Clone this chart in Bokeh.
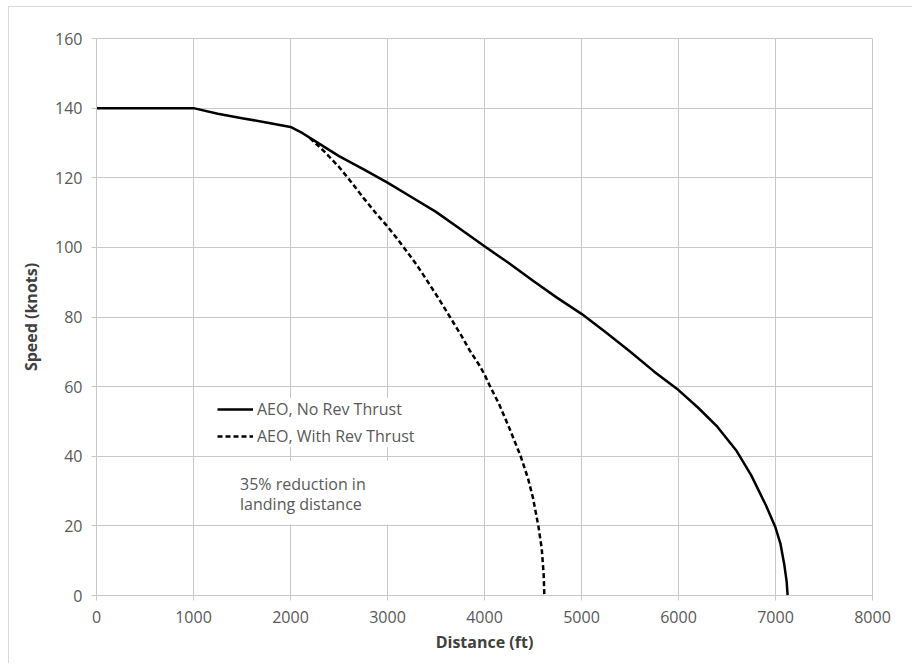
from bokeh.plotting import figure
from bokeh.models import (Range1d, FixedTicker, Legend, LegendItem, Label,
                          BoxAnnotation)
from bokeh.embed import file_html
from bokeh.resources import INLINE

# ---- data ----
no_rev_dist = [0, 1000, 1250, 1500, 1750, 2000, 2125, 2250, 2500, 2750, 3000,
               3250, 3500, 3750, 4000, 4250, 4500, 4750, 5000, 5250, 5500,
               5750, 6000, 6200, 6400, 6600, 6750, 6900, 7000, 7050, 7090,
               7115, 7125]
no_rev_speed = [140, 140, 138.4, 137.1, 135.9, 134.6, 132.8, 130.6, 126.2,
                122.5, 118.6, 114.4, 110.2, 105.3, 100.3, 95.5, 90.4, 85.5,
                80.9, 75.6, 70.1, 64.3, 59.0, 54.0, 48.5, 41.5, 34.5, 26.0,
                19.5, 15.0, 9.0, 4.0, 0]

rev_dist = [2200, 2350, 2500, 2625, 2750, 2875, 3000, 3100, 3200, 3300, 3400,
            3541, 3644, 3750, 3850, 3950, 4000, 4050, 4150, 4250, 4373, 4450,
            4500, 4555, 4590, 4610, 4617]
rev_speed = [131.4, 127.5, 123.1, 118.8, 114.3, 110.0, 106.0, 102.5, 98.8,
             95.0, 90.8, 84.7, 80.0, 75.2, 70.3, 66.0, 63.5, 60.5, 55.0, 48.5,
             40.0, 33.5, 28.0, 20.0, 13.5, 6.0, 0]

x_ticks = [0, 1000, 2000, 3000, 4000, 5000, 6000, 7000, 8000]
y_ticks = [0, 20, 40, 60, 80, 100, 120, 140, 160]

series_names = ["AEO, No Rev Thrust", "AEO, With Rev Thrust"]
note_lines = ["35% reduction in", "landing distance"]
x_title = "Distance (ft)"
y_title = "Speed (knots)"

FONT = "Open Sans"
GRID = "#c8c8c8"
TXT = "#595959"

p = figure(width=904, height=657, output_backend="svg", toolbar_location=None,
           x_range=Range1d(0, 8000), y_range=Range1d(0, 160),
           min_border_left=87, min_border_right=41, min_border_top=31,
           min_border_bottom=69, background_fill_color="white",
           border_fill_color="white", outline_line_color=GRID)
p.margin = (6, 0, 0, 8)
p.styles = {"border-left": "1px solid #d9d9d9", "border-top": "1px solid #d9d9d9"}

for ax, ticks in ((p.xaxis[0], x_ticks), (p.yaxis[0], y_ticks)):
    ax.ticker = FixedTicker(ticks=ticks)
    ax.axis_line_color = GRID
    ax.major_tick_line_color = GRID
    ax.major_tick_out = 5
    ax.major_tick_in = 0
    ax.minor_tick_line_color = None
    ax.major_label_text_font = FONT
    ax.major_label_text_font_size = "16px"
    ax.major_label_text_color = TXT
    ax.axis_label_text_font = FONT
    ax.axis_label_text_font_size = "16px"
    ax.axis_label_text_font_style = "bold"
    ax.axis_label_text_color = "#404040"

p.xaxis.axis_label = x_title
p.yaxis.axis_label = y_title
p.xaxis.major_label_standoff = 10
p.yaxis.major_label_standoff = 9
p.xaxis.axis_label_standoff = 5
p.yaxis.axis_label_standoff = 10

p.xgrid.ticker = FixedTicker(ticks=x_ticks)
p.ygrid.ticker = FixedTicker(ticks=y_ticks)
p.xgrid.grid_line_color = GRID
p.ygrid.grid_line_color = GRID

r1 = p.line(no_rev_dist, no_rev_speed, line_color="black", line_width=2.5,
            line_join="round")
r2 = p.line(rev_dist, rev_speed, line_color="black", line_width=2.5,
            line_dash="5 3", line_join="round")

# white box behind the note
p.add_layout(BoxAnnotation(left=1200, right=3070, bottom=20.4, top=38.6,
                           fill_color="white", fill_alpha=1.0, line_color=None))
p.add_layout(Label(x=1480, y=32.1, text=note_lines[0], text_font=FONT,
                   text_font_size="16px", text_color=TXT,
                   text_baseline="middle"))
p.add_layout(Label(x=1480, y=26.3, text=note_lines[1], text_font=FONT,
                   text_font_size="16px", text_color=TXT,
                   text_baseline="middle"))

legend = Legend(items=[LegendItem(label=series_names[0], renderers=[r1]),
                       LegendItem(label=series_names[1], renderers=[r2])],
                location=(121, 148), padding=4, spacing=5, margin=0,
                glyph_width=36, glyph_height=20, label_height=20,
                label_standoff=4, border_line_color=None,
                background_fill_color="white", background_fill_alpha=1.0,
                label_text_font=FONT, label_text_font_size="16px",
                label_text_color=TXT)
p.add_layout(legend)

open("out.html", "w").write(file_html(p, INLINE))
